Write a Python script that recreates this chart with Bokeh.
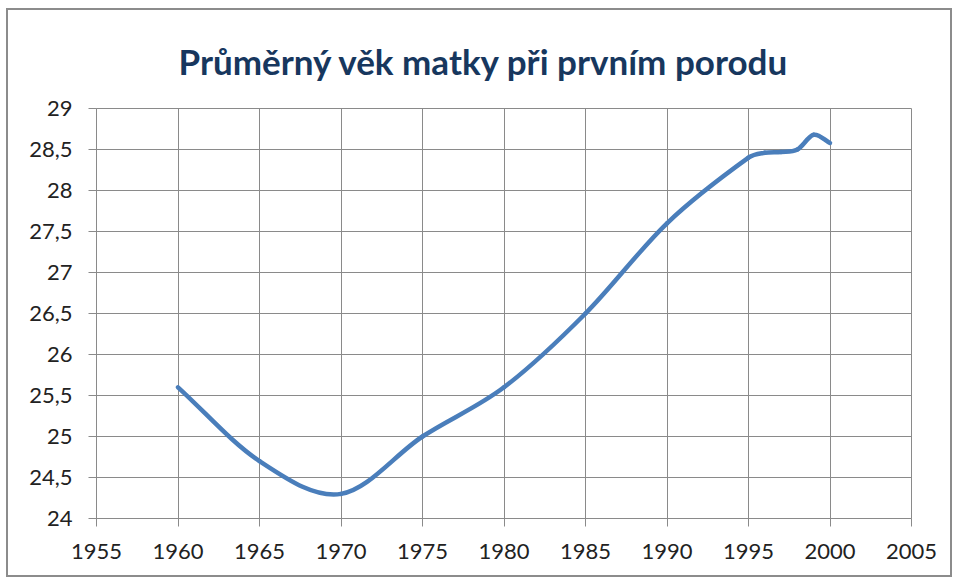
from bokeh.plotting import figure
from bokeh.models import SingleIntervalTicker, CustomJSTickFormatter, Range1d, ColumnDataSource
from bokeh.embed import file_html
from bokeh.resources import INLINE

# Data
years = [1960, 1965, 1970, 1975, 1980, 1985, 1990, 1995, 1996, 1997, 1998, 1999, 2000]
age = [25.6, 24.7, 24.3, 25.0, 25.6, 26.5, 27.6, 28.4, 28.46, 28.47, 28.5, 28.68, 28.58]
title_text = "Průměrný věk matky při prvním porodu"

# Smoothed line: cubic Hermite segments (finite-difference slopes) drawn as Bezier curves
n = len(years)
slopes = []
for i in range(n):
    a = max(i - 1, 0)
    b = min(i + 1, n - 1)
    slopes.append((age[b] - age[a]) / (years[b] - years[a]))
seg = dict(x0=[], y0=[], x1=[], y1=[], cx0=[], cy0=[], cx1=[], cy1=[])
for i in range(n - 1):
    h = years[i + 1] - years[i]
    seg["x0"].append(years[i]); seg["y0"].append(age[i])
    seg["x1"].append(years[i + 1]); seg["y1"].append(age[i + 1])
    seg["cx0"].append(years[i] + h / 3); seg["cy0"].append(age[i] + slopes[i] * h / 3)
    seg["cx1"].append(years[i + 1] - h / 3); seg["cy1"].append(age[i + 1] - slopes[i + 1] * h / 3)
src = ColumnDataSource(seg)

p = figure(width=946, height=569, output_backend="svg", toolbar_location=None,
           x_range=Range1d(1955, 2005), y_range=Range1d(24, 29),
           min_border_left=88, min_border_right=43, min_border_top=98, min_border_bottom=61)
p.styles = {"border": "2px solid #8c8c8c", "margin-left": "6px", "margin-top": "8px"}

p.title.text = title_text
p.title.text_font = "Lato"
p.title.text_font_style = "bold"
p.title.text_font_size = "35px"
p.title.text_color = "#17375E"
p.title.align = "left"
p.title.offset = 82
p.title.standoff = 54

grid_col = "#8a8a8a"
p.xaxis.ticker = SingleIntervalTicker(interval=5)
p.yaxis.ticker = SingleIntervalTicker(interval=0.5)
p.yaxis.formatter = CustomJSTickFormatter(code="return tick.toString().replace('.', ',');")
for ax in (p.xaxis[0], p.yaxis[0]):
    ax.axis_line_color = grid_col
    ax.major_tick_line_color = grid_col
    ax.major_tick_out = 8
    ax.major_tick_in = 0
    ax.minor_tick_line_color = None
    ax.major_label_text_font = "Lato"
    ax.major_label_text_font_size = "22px"
    ax.major_label_text_color = "#222222"
p.xaxis.major_label_standoff = 17
p.yaxis.major_label_standoff = 16
p.xgrid.ticker = SingleIntervalTicker(interval=5)
p.ygrid.ticker = SingleIntervalTicker(interval=0.5)
p.grid.grid_line_color = grid_col
p.grid.grid_line_width = 1
p.outline_line_color = grid_col
p.background_fill_color = "white"
p.border_fill_color = "white"

p.bezier(x0="x0", y0="y0", x1="x1", y1="y1", cx0="cx0", cy0="cy0", cx1="cx1", cy1="cy1",
         source=src, line_color="#4A7EBB", line_width=4.5, line_cap="round")

open("out.html", "w").write(file_html(p, INLINE))
